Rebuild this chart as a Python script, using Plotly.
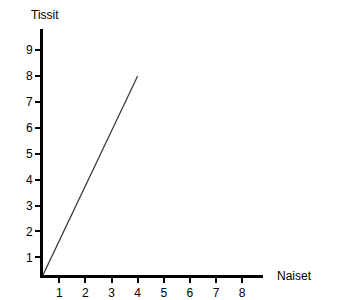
import plotly.graph_objects as go

x_vals = [0.375, 4]
y_vals = [0.32, 8]
x_ticks = [1, 2, 3, 4, 5, 6, 7, 8]
y_ticks = [1, 2, 3, 4, 5, 6, 7, 8, 9]
x_title = "Naiset"
y_title = "Tissit"

W, H = 364, 300
L, R, T, B = 43, 101, 29, 25
pw, ph = W - L - R, H - T - B

fig = go.Figure(go.Scatter(x=x_vals, y=y_vals, mode="lines",
                           line=dict(color="#333333", width=1.2), hoverinfo="skip"))

font = dict(family="Liberation Sans, Arial, sans-serif", size=12, color="black")
axis_common = dict(showgrid=False, zeroline=False, showline=True, linecolor="black",
                   linewidth=3, ticks="outside", ticklen=5, tickwidth=2, tickcolor="black",
                   tickfont=font, fixedrange=True, automargin=False)
fig.update_xaxes(range=[0.375, 8.80], tickvals=x_ticks, ticktext=[str(v) for v in x_ticks], **axis_common)
fig.update_yaxes(range=[0.32, 9.81], tickvals=y_ticks, ticktext=[str(v) for v in y_ticks], **axis_common)

def px(p):
    return (p - L) / pw
def py(p):
    return (H - B - p) / ph

fig.add_annotation(text=y_title, x=px(44.5), y=py(15), xref="paper", yref="paper",
                   showarrow=False, font=font, xanchor="center", yanchor="middle")
fig.add_annotation(text=x_title, x=px(294), y=py(276), xref="paper", yref="paper",
                   showarrow=False, font=font, xanchor="center", yanchor="middle")

fig.update_layout(width=W, height=H, margin=dict(l=L, r=R, t=T, b=B, autoexpand=False),
                  plot_bgcolor="white", paper_bgcolor="white", showlegend=False)
fig.write_html("out.html", config={"displayModeBar": False})
